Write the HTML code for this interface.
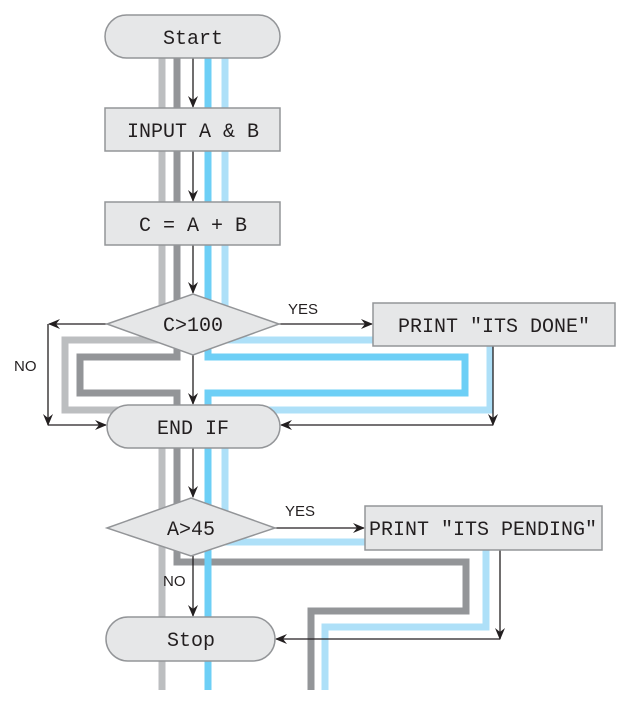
<!DOCTYPE html>
<html><head><style>body{margin:0;background:#fff}svg{display:block}</style></head>
<body>
<svg width="638" height="706" viewBox="0 0 638 706" xmlns="http://www.w3.org/2000/svg">
<defs>
<marker id="a" markerWidth="12" markerHeight="10" refX="11" refY="5" orient="auto" markerUnits="userSpaceOnUse">
<path d="M0,0 L12,5 L0,10 L4,5 Z" fill="#231f20"/></marker>
</defs>
<g fill="none" stroke-width="7" stroke-linejoin="miter">
<path d="M162,58 V340 H65 V410 H162 V690" stroke="#bcbec0"/>
<path d="M177,58 V357 H80 V393 H177 V562 H466 V611 H311 V690" stroke="#939598"/>
<path d="M208,58 V357 H465 V393 H208 V690" stroke="#6dcff6"/>
<path d="M225,58 V340 H490 V410 H225 V542 H486 V627 H325 V690" stroke="#aee0f8"/>
</g>
<g stroke="#231f20" stroke-width="1.3" fill="none">
<path d="M193,58 V107" marker-end="url(#a)"/>
<path d="M193,151 V201" marker-end="url(#a)"/>
<path d="M193,245 V293" marker-end="url(#a)"/>
<path d="M193,355 V404" marker-end="url(#a)"/>
<path d="M193,448 V497" marker-end="url(#a)"/>
<path d="M193,556 V616" marker-end="url(#a)"/>
<path d="M279,324 H372" marker-end="url(#a)"/>
<path d="M107,324 H49" marker-end="url(#a)"/>
<path d="M48,324 V425" marker-end="url(#a)"/>
<path d="M48,425 H106" marker-end="url(#a)"/>
<path d="M493,346 V425" marker-end="url(#a)"/>
<path d="M493,425 H281" marker-end="url(#a)"/>
<path d="M275,528 H364" marker-end="url(#a)"/>
<path d="M500,550 V639" marker-end="url(#a)"/>
<path d="M500,639 H276" marker-end="url(#a)"/>
</g>
<g fill="#e6e7e8" stroke="#939598" stroke-width="1.5">
<rect x="105" y="15" width="175" height="43" rx="21.5"/>
<rect x="105" y="108" width="175" height="43"/>
<rect x="105" y="202" width="175" height="43"/>
<polygon points="107,324 193,294 279,324 193,355"/>
<rect x="373" y="303" width="242" height="43"/>
<rect x="107" y="405" width="173" height="43" rx="21.5"/>
<polygon points="107,528 191,498 275,528 191,556"/>
<rect x="365" y="506" width="237" height="44"/>
<rect x="106" y="617" width="169" height="44" rx="22"/>
</g>
<g font-family="Liberation Mono, monospace" font-size="20" fill="#231f20" text-anchor="middle">
<text x="193" y="44">Start</text>
<text x="193" y="137">INPUT A &amp; B</text>
<text x="193" y="231">C = A + B</text>
<text x="193" y="331">C&gt;100</text>
<text x="494" y="332">PRINT "ITS DONE"</text>
<text x="193" y="434">END IF</text>
<text x="191" y="535">A&gt;45</text>
<text x="483" y="535">PRINT "ITS PENDING"</text>
<text x="191" y="646">Stop</text>
</g>
<g font-family="Liberation Sans, sans-serif" font-size="15" fill="#231f20">
<text x="288" y="314">YES</text>
<text x="14" y="371">NO</text>
<text x="285" y="516">YES</text>
<text x="163" y="586">NO</text>
</g>
</svg>
</body></html>
